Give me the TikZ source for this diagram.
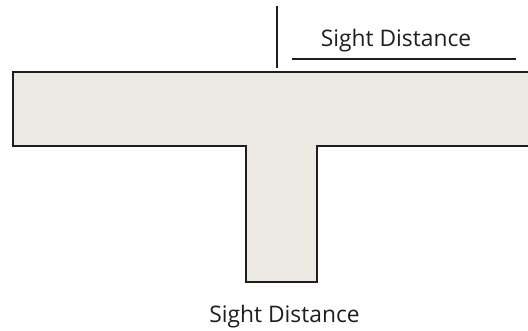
\documentclass[tikz,border=0pt]{standalone}
\usepackage{fontspec}
\setmainfont{Open Sans}
\definecolor{roadfill}{HTML}{ECE9E3}
\definecolor{ink}{HTML}{1E1E1E}
\tikzset{
  label text/.style={inner sep=0pt, text=ink, font=\fontsize{22.8}{26}\selectfont},
  road edge/.style={draw=ink, line width=1.6pt, line join=miter},
  mark line/.style={draw=ink, line width=1.3pt}
}
\begin{document}
\begin{tikzpicture}[x=1pt,y=-1pt]
\useasboundingbox (0,0) rectangle (528,331);
\fill[roadfill] (13,72) -- (530,72) -- (530,146) -- (317,146) -- (317,282) -- (246,282) -- (246,146) -- (13,146) -- cycle;
\draw[road edge] (530,72) -- (13,72) -- (13,146) -- (246,146) -- (246,282) -- (317,282) -- (317,146) -- (530,146);
\coordinate (vtop) at (277,6);
\coordinate (vbot) at (277,68);
\draw[mark line] (vtop) -- (vbot);
\coordinate (ul) at (292,59);
\coordinate (ur) at (516,59);
\draw[mark line, line width=1.1pt] (ul) -- (ur);
\node[label text, anchor=base] (top) at (396,47) {Sight Distance};
\node[label text, anchor=base] (bottom) at (284.5,323) {Sight Distance};
\end{tikzpicture}
\end{document}
